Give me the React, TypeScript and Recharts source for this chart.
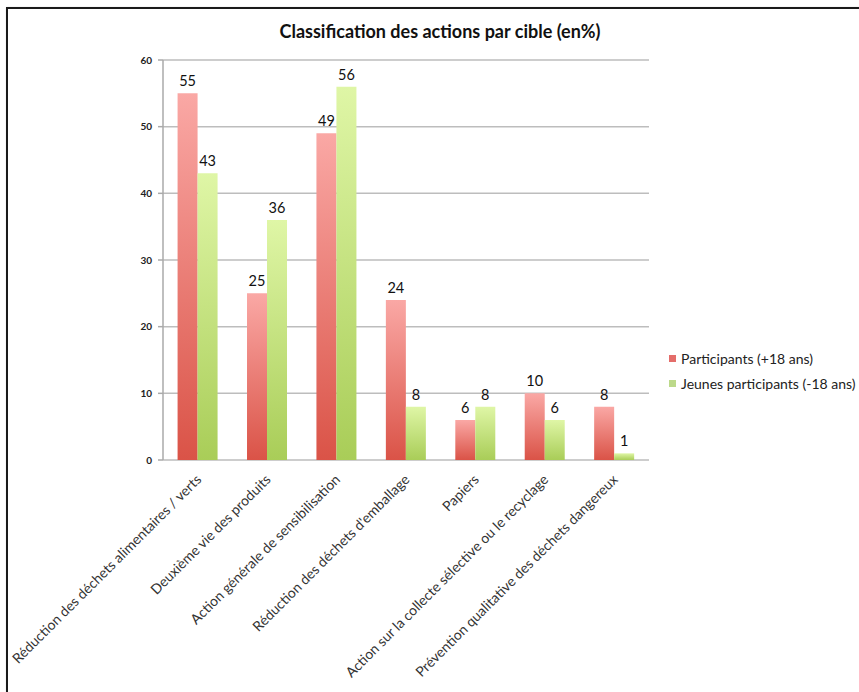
import React from 'react';
import { BarChart, Bar, XAxis, YAxis, CartesianGrid, LabelList } from 'recharts';

const categories = [
  'Réduction des déchets alimentaires / verts',
  'Deuxième vie des produits',
  'Action générale de sensibilisation',
  "Réduction des déchets d'emballage",
  'Papiers',
  'Action sur la collecte sélective ou le recyclage',
  'Prévention qualitative des déchets dangereux',
];
const adults = [55, 25, 49, 24, 6, 10, 8];
const youth = [43, 36, 56, 8, 8, 6, 1];
const yTicks = [0, 10, 20, 30, 40, 50, 60];
const edgeTicks = [0, 1, 2, 3, 4, 5, 6, 7];

const data = categories.map((name, i) => ({ name, adults: adults[i], youth: youth[i] }));

const FONT = 'Lato, "Open Sans", sans-serif';

const CategoryTick = (props: any) => {
  const { x, y, payload } = props;
  return (
    <g transform={`translate(${x + 1},${y + 9})`}>
      <text
        x={0}
        y={0}
        dy="0.35em"
        transform="rotate(-45)"
        textAnchor="end"
        fontFamily={FONT}
        fontSize={14}
        fill="#333"
      >
        {payload.value}
      </text>
    </g>
  );
};

const LegendBox = () => (
  <div style={{ fontFamily: FONT, fontSize: 14, color: '#222', lineHeight: '25px', whiteSpace: 'nowrap' }}>
    <div style={{ display: 'flex', alignItems: 'center' }}>
      <span style={{ width: 7, height: 7, background: '#e46d6a', marginRight: 5, display: 'inline-block' }} />
      Participants (+18 ans)
    </div>
    <div style={{ display: 'flex', alignItems: 'center' }}>
      <span style={{ width: 7, height: 7, background: '#bcd98a', marginRight: 5, display: 'inline-block' }} />
      Jeunes participants (-18 ans)
    </div>
  </div>
);

export default function App() {
  return (
    <div style={{ position: 'absolute', left: 0, top: 0, width: 859, height: 692, overflow: 'hidden', background: '#fff' }}>
      <div
        style={{
          position: 'absolute',
          left: 6,
          top: 7,
          width: 900,
          height: 760,
          border: '2px solid #1a1a1a',
          boxShadow: '1px 1px 2px #888',
        }}
      />
      <div
        style={{
          position: 'absolute',
          left: 0,
          width: 880,
          top: 20,
          textAlign: 'center',
          fontFamily: FONT,
          fontWeight: 700,
          fontSize: 18,
          color: '#111',
        }}
      >
        Classification des actions par cible (en%)
      </div>
      <div style={{ position: 'absolute', left: 0, top: 0 }}>
        <BarChart
          width={859}
          height={692}
          data={data}
          margin={{ top: 60, right: 210, bottom: 12, left: 123 }}
          barCategoryGap="21%"
          barGap={0}
        >
          <defs>
            <linearGradient id="gradRed" x1="0" y1="0" x2="0" y2="1">
              <stop offset="0%" stopColor="#faa8a5" />
              <stop offset="100%" stopColor="#da5347" />
            </linearGradient>
            <linearGradient id="gradGreen" x1="0" y1="0" x2="0" y2="1">
              <stop offset="0%" stopColor="#dff6a6" />
              <stop offset="100%" stopColor="#a9cd58" />
            </linearGradient>
          </defs>
          <CartesianGrid vertical={false} stroke="#bdbdbd" strokeWidth={1.5} />
          <XAxis
            xAxisId="edges"
            type="number"
            domain={[0, 7]}
            ticks={edgeTicks}
            height={0}
            tick={false}
            tickSize={6}
            stroke="#aaaaaa"
            strokeWidth={1.5}
          />
          <XAxis
            xAxisId="cat"
            dataKey="name"
            interval={0}
            axisLine={false}
            tickLine={false}
            height={220}
            tick={<CategoryTick />}
          />
          <YAxis
            domain={[0, 60]}
            ticks={yTicks}
            width={40}
            tickSize={5}
            tickMargin={6}
            stroke="#aaaaaa"
            strokeWidth={1.5}
            tick={{ fontFamily: FONT, fontSize: 10, fontWeight: 700, fill: '#222' }}
          />
          <Bar xAxisId="cat" dataKey="adults" name="Participants (+18 ans)" fill="url(#gradRed)" isAnimationActive={false}>
            <LabelList dataKey="adults" position="top" offset={7} style={{ fontFamily: FONT, fontSize: 14.5, fill: '#111' }} />
          </Bar>
          <Bar xAxisId="cat" dataKey="youth" name="Jeunes participants (-18 ans)" fill="url(#gradGreen)" isAnimationActive={false}>
            <LabelList dataKey="youth" position="top" offset={7} style={{ fontFamily: FONT, fontSize: 14.5, fill: '#111' }} />
          </Bar>
        </BarChart>
      </div>
      <div style={{ position: 'absolute', left: 669, top: 346 }}>
        <LegendBox />
      </div>
    </div>
  );
}
